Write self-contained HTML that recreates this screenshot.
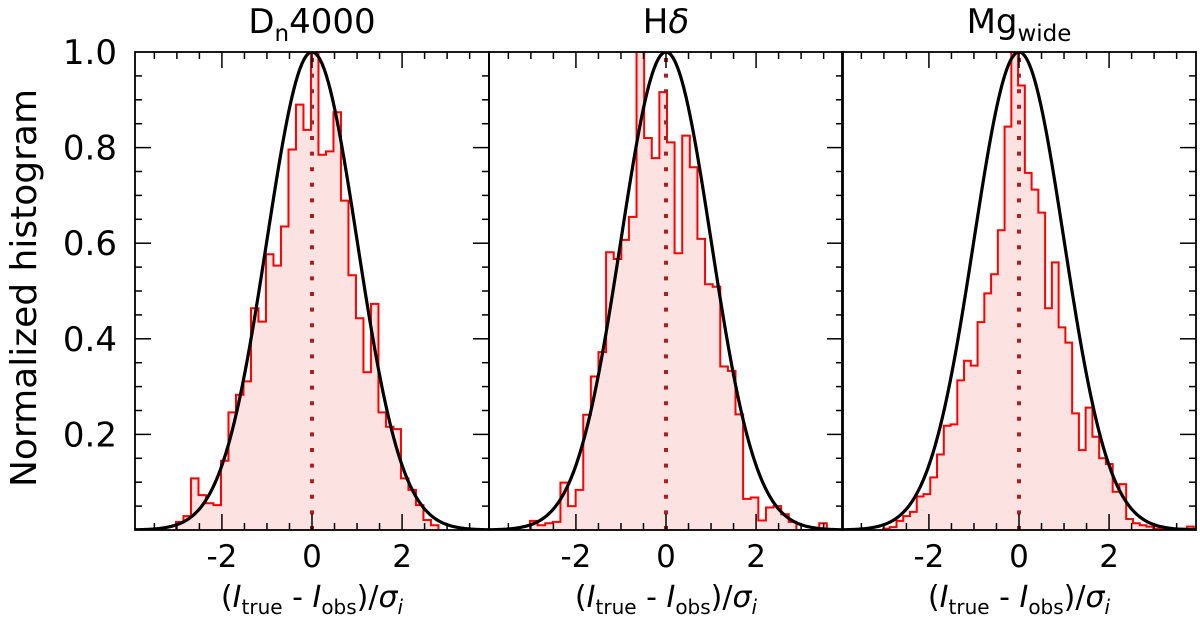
<!DOCTYPE html>
<html><head><meta charset="utf-8"><style>
html,body{margin:0;padding:0;background:#fff;}
svg{display:block;font-family:"DejaVu Sans","Liberation Sans",sans-serif;}
</style></head><body>
<svg id="chart" width="1200" height="623" viewBox="0 0 1200 623" xmlns="http://www.w3.org/2000/svg">
<text x="36" y="288" font-size="36" text-anchor="middle" transform="rotate(-90 36 288)">Normalized histogram</text>
</svg>
<script>
// ---- data ----
const panelTitles = ["Dn4000", "Hdelta", "Mgwide"];
const binStart = [-3.02, -3.02, -3.02];
const binWidth = [0.1665, 0.169, 0.15];
const hDn4000 = [0.017,0.029,0.108,0.073,0.056,0.052,0.145,0.246,0.283,0.311,0.464,0.436,0.577,0.553,0.635,0.796,0.890,0.837,1.0,0.785,0.792,0.874,0.689,0.533,0.443,0.330,0.473,0.246,0.216,0.211,0.108,0.084,0.052,0.021,0.010];
const hHdelta = [0.019,0.010,0.014,0.017,0.099,0.050,0.084,0.241,0.321,0.372,0.581,0.567,0.607,0.655,1.05,0.820,0.778,0.916,0.811,0.579,0.825,0.759,0.609,0.514,0.509,0.342,0.333,0.242,0.065,0.068,0.020,0.047,0.050,0.033,0.017,0,0,0,0.014];
const hMgwide = [0.003,0.006,0.019,0.029,0.038,0.070,0.075,0.110,0.158,0.218,0.221,0.313,0.354,0.344,0.435,0.495,0.535,0.627,0.844,1.0,0.930,0.747,0.712,0.664,0.464,0.560,0.424,0.392,0.244,0.167,0.256,0.195,0.150,0.138,0.080,0.096,0.023,0.014,0.010,0.007,0.003,0.003,0.003,0.003,0.003,0.007];
const seriesList = [hDn4000, hHdelta, hMgwide];
const gaussSigma = 1.0;
const xTickLabels = [-2, 0, 2];
const yTickLabels = [0.2, 0.4, 0.6, 0.8, 1.0];

// ---- layout ----
const NS = "http://www.w3.org/2000/svg";
const svgEl = document.getElementById('chart');
const panelLeft = [135, 489, 842], panelW = 354, plotTop = 52, plotBot = 530;
const xMin = -3.93, xMax = 3.93;
function xs(p, v){ return panelLeft[p] + (v - xMin) / (xMax - xMin) * panelW; }
function ys(v){ return plotBot - v * (plotBot - plotTop); }
function mk(tag, attrs, parent){ const e = document.createElementNS(NS, tag); for (const k in attrs) e.setAttribute(k, attrs[k]); (parent||svgEl).appendChild(e); return e; }

const defsEl = mk('defs', {});
for (let p = 0; p < 3; p++) {
  const cp = mk('clipPath', {id: 'clip' + p}, defsEl);
  mk('rect', {x: panelLeft[p], y: plotTop, width: panelW, height: plotBot - plotTop}, cp);
}

for (let p = 0; p < 3; p++) {
  const g = mk('g', {});
  
  
  const h = seriesList[p];
  let d = 'M' + xs(p, binStart[p]) + ',' + ys(0);
  for (let i = 0; i < h.length; i++) {
    const x0 = xs(p, binStart[p] + i * binWidth[p]), x1 = xs(p, binStart[p] + (i + 1) * binWidth[p]);
    d += ' L' + x0 + ',' + ys(h[i]) + ' L' + x1 + ',' + ys(h[i]);
  }
  d += ' L' + xs(p, binStart[p] + h.length * binWidth[p]) + ',' + ys(0);
  const hg = mk('g', {'clip-path': 'url(#clip' + p + ')'}, g);
  const fill = mk('path', {d: d + ' Z', fill: '#fde2e2', stroke: 'none'}, hg);
  
  
  const step = mk('path', {d: d, fill: 'none', stroke: '#ff0000', 'stroke-width': 2}, hg);
  
  
  const zl = mk('line', {x1: xs(p, 0), x2: xs(p, 0), y1: ys(0), y2: ys(1), stroke: '#a82020', 'stroke-width': 4, 'stroke-dasharray': '4 11.6'}, hg);
  
  
  let gd = '';
  for (let k = 0; k <= 300; k++) {
    const v = xMin + (xMax - xMin) * k / 300;
    gd += (k ? ' L' : 'M') + xs(p, v).toFixed(2) + ',' + ys(Math.exp(-v * v / (2 * gaussSigma * gaussSigma))).toFixed(2);
  }
  const gc = mk('path', {d: gd, fill: 'none', stroke: '#000', 'stroke-width': 3.2}, hg);
  
  
  const fr = mk('rect', {x: panelLeft[p], y: plotTop, width: panelW, height: plotBot - plotTop, fill: 'none', stroke: '#000', 'stroke-width': 1.8}, g);
  
  
  for (let t = -3.5; t <= 3.51; t += 0.5) {
    const major = Math.abs(t % 2) < 1e-6;
    const L = major ? 16 : 7, x = xs(p, t);
    mk('line', {x1: x, x2: x, y1: plotBot, y2: plotBot - L, stroke: '#000', 'stroke-width': 1.5}, g);
    mk('line', {x1: x, x2: x, y1: plotTop, y2: plotTop + L, stroke: '#000', 'stroke-width': 1.5}, g);
  }
  for (let k = 1; k < 20; k++) {
    const v = k * 0.05, major = k % 4 === 0, L = major ? 16 : 7, y = ys(v);
    const xr = panelLeft[p] + panelW;
    mk('line', {x1: xr, x2: xr - L, y1: y, y2: y, stroke: '#000', 'stroke-width': 1.5}, g);
    if (p === 0) mk('line', {x1: panelLeft[p], x2: panelLeft[p] + L, y1: y, y2: y, stroke: '#000', 'stroke-width': 1.5}, g);
  }
  xTickLabels.forEach(v => {
    const t = mk('text', {x: xs(p, v), y: 567, 'font-size': 31, 'text-anchor': 'middle'}, g);
    t.textContent = v < 0 ? '-' + Math.abs(v) : String(v);
    
    
  });
  const xt = mk('text', {x: xs(p, 0), y: 607, 'font-size': 30, 'text-anchor': 'middle'}, g);
  xt.innerHTML = '(<tspan font-style="italic">I</tspan><tspan font-size="20" dy="7">true</tspan><tspan dy="-7"> - </tspan><tspan font-style="italic">I</tspan><tspan font-size="20" dy="7">obs</tspan><tspan dy="-7">)/</tspan><tspan font-style="italic">σ</tspan><tspan font-style="italic" font-size="20" dy="7">i</tspan>';
  
  
  const tt = mk('text', {x: xs(p, 0), y: 33, 'font-size': 34, 'text-anchor': 'middle'}, g);
  if (p === 0) tt.innerHTML = 'D<tspan font-size="23" dy="8">n</tspan><tspan dy="-8">4000</tspan>';
  else if (p === 1) tt.innerHTML = 'H<tspan font-style="italic">δ</tspan>';
  else tt.innerHTML = 'Mg<tspan font-size="23" dy="8">wide</tspan>';
  
  
}
yTickLabels.forEach(v => {
  const t = mk('text', {x: 117, y: ys(v) + 12, 'font-size': 34, 'text-anchor': 'end'});
  t.textContent = v.toFixed(1);
  
  
});
</script>
</body></html>
